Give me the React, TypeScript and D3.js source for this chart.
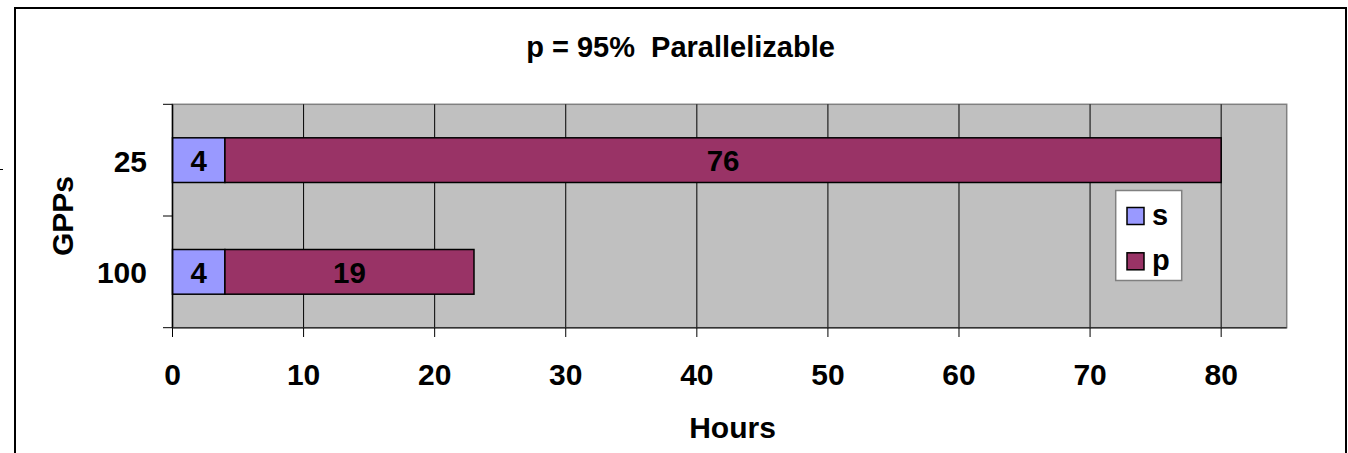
import React from "react";
import * as d3 from "d3";

// Categories (GPP counts) and the two stacked series, in hours
const categories = ["25", "100"];
const serialHours = [4, 4];
const parallelHours = [76, 19];
const seriesNames = ["s", "p"];
const seriesColors = ["#9999FF", "#993366"];
const xTicks = [0, 10, 20, 30, 40, 50, 60, 70, 80];
const xMax = 85;
const titleText = "p = 95%  Parallelizable";
const xTitle = "Hours";
const yTitle = "GPPs";

const W = 1348;
const H = 453;
const plot = { left: 172.5, top: 104.3, right: 1286.7, bottom: 327.7 };
const FONT = "'Liberation Sans', Arial, sans-serif";

export default function App() {
  const x = d3.scaleLinear().domain([0, xMax]).range([plot.left, plot.right]);
  const y = d3
    .scaleBand<string>()
    .domain(categories)
    .range([plot.top, plot.bottom])
    .paddingInner(0.6)
    .paddingOuter(0.3);

  const rows = categories.map((c, i) => ({ c, vals: [serialHours[i], parallelHours[i]] }));
  const stacked = rows.map((r) => {
    let acc = 0;
    return r.vals.map((v, k) => {
      const seg = { c: r.c, x0: acc, x1: acc + v, v, k };
      acc += v;
      return seg;
    });
  });

  const catBounds = [plot.top, (plot.top + plot.bottom) / 2, plot.bottom];

  return (
    <svg
      width={W}
      height={H}
      style={{ position: "absolute", left: 0, top: 0, background: "#fff" }}
      fontFamily={FONT}
      fontWeight="bold"
    >
      {/* chart frame */}
      <rect x={15} y={8} width={1331} height={470} fill="#fff" stroke="#000" strokeWidth={2} />
      <line x1={0} x2={3} y1={169.5} y2={169.5} stroke="#000" strokeWidth={1} />

      {/* title */}
      <text x={680.5} y={57} textAnchor="middle" fontSize={29} style={{ whiteSpace: "pre" }}>
        {titleText}
      </text>

      {/* plot area */}
      <rect
        x={plot.left}
        y={plot.top}
        width={plot.right - plot.left}
        height={plot.bottom - plot.top}
        fill="#C0C0C0"
        stroke="#808080"
        strokeWidth={1.5}
      />

      {/* vertical gridlines */}
      {xTicks
        .filter((t) => t > 0)
        .map((t) => (
          <line key={"g" + t} x1={x(t)} x2={x(t)} y1={plot.top} y2={plot.bottom} stroke="#000" strokeWidth={1} />
        ))}

      {/* bars */}
      {stacked.map((segs) =>
        segs.map((s) => (
          <g key={s.c + s.k}>
            <rect
              x={x(s.x0)}
              y={y(s.c)!}
              width={x(s.x1) - x(s.x0)}
              height={y.bandwidth()}
              fill={seriesColors[s.k]}
              stroke="#000"
              strokeWidth={1.5}
            />
            <text
              x={(x(s.x0) + x(s.x1)) / 2}
              y={y(s.c)! + y.bandwidth() / 2 + 11}
              textAnchor="middle"
              fontSize={29.5}
            >
              {s.v}
            </text>
          </g>
        ))
      )}

      {/* axes */}
      <line x1={plot.left} x2={plot.left} y1={plot.top} y2={plot.bottom} stroke="#000" strokeWidth={1.5} />
      <line x1={plot.left} x2={plot.right} y1={plot.bottom} y2={plot.bottom} stroke="#333" strokeWidth={1.5} />
      {catBounds.map((b, i) => (
        <line key={"yt" + i} x1={163} x2={plot.left} y1={b} y2={b} stroke="#000" strokeWidth={1} />
      ))}
      {xTicks.map((t) => (
        <g key={"xt" + t}>
          <line x1={x(t)} x2={x(t)} y1={plot.bottom} y2={337} stroke="#000" strokeWidth={1} />
          <text x={x(t)} y={384.5} textAnchor="middle" fontSize={30}>
            {t}
          </text>
        </g>
      ))}
      {categories.map((c) => (
        <text key={"yl" + c} x={147} y={y(c)! + y.bandwidth() / 2 + 11.5} textAnchor="end" fontSize={30}>
          {c}
        </text>
      ))}

      {/* axis titles */}
      <text x={732.5} y={438} textAnchor="middle" fontSize={30}>
        {xTitle}
      </text>
      <text
        transform={`translate(73, ${(plot.top + plot.bottom) / 2}) rotate(-90)`}
        textAnchor="middle"
        fontSize={30}
      >
        {yTitle}
      </text>

      {/* legend */}
      <rect x={1115.7} y={190.5} width={66} height={90} fill="#fff" stroke="#808080" strokeWidth={1.5} />
      {seriesNames.map((n, i) => (
        <g key={"lg" + n}>
          <rect
            x={1127}
            y={207.5 + i * 45.3}
            width={17}
            height={17}
            fill={seriesColors[i]}
            stroke="#000"
            strokeWidth={1.5}
          />
          <text x={1152} y={224.5 + i * 45.3} fontSize={29}>
            {n}
          </text>
        </g>
      ))}
    </svg>
  );
}
